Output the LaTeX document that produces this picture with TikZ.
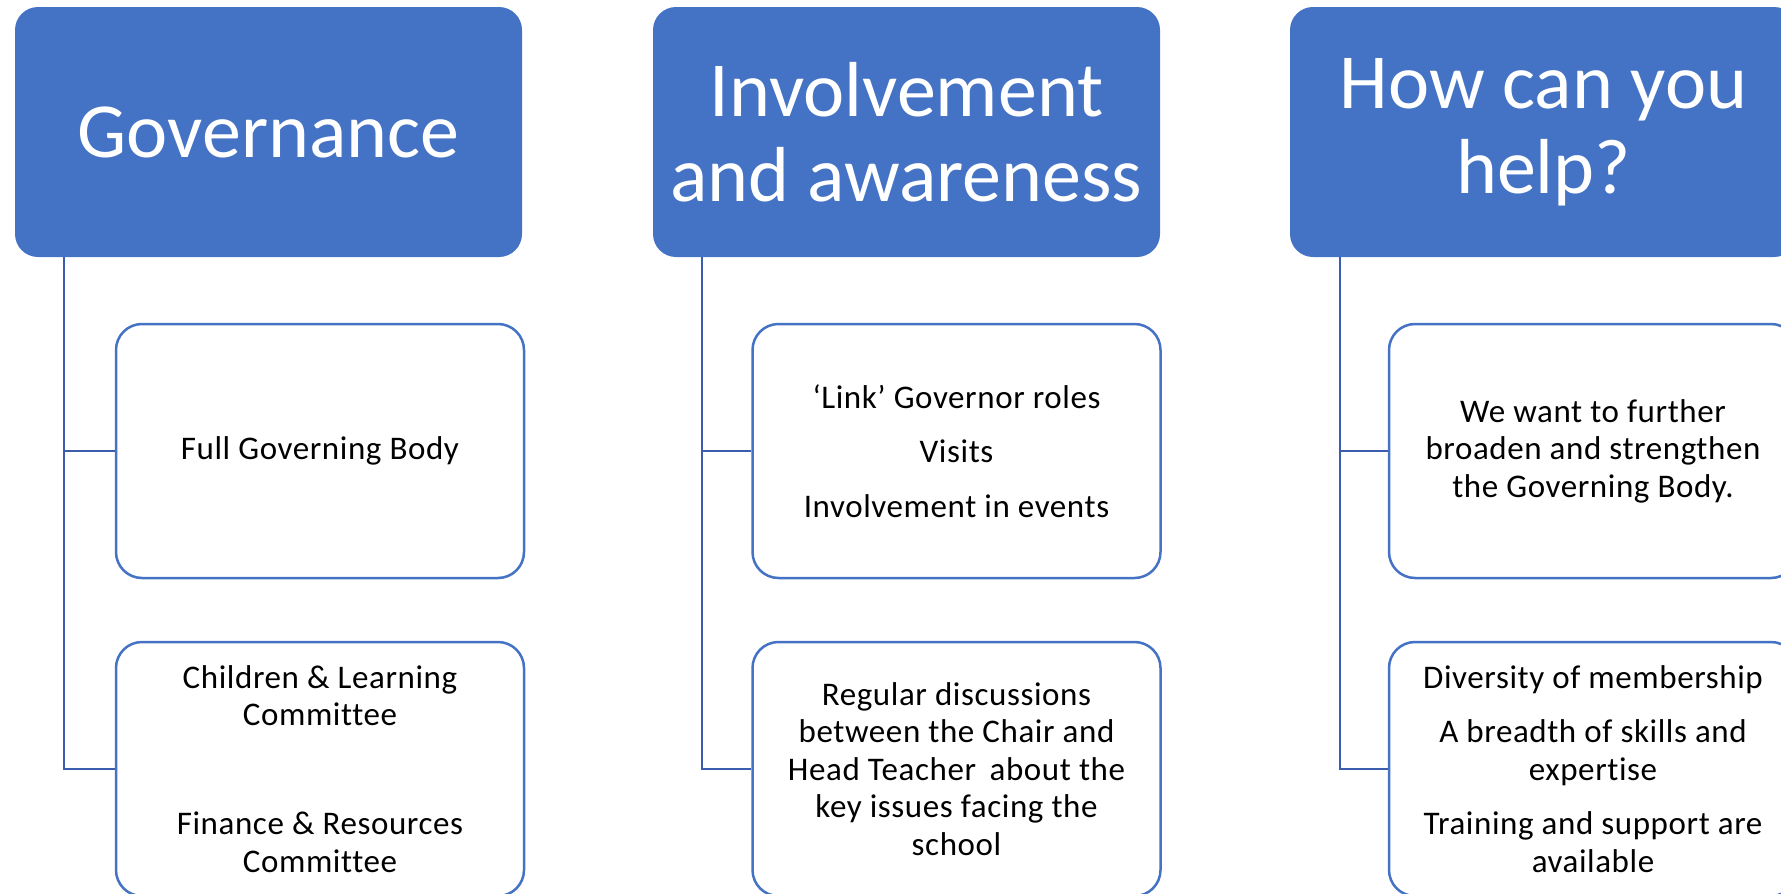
\documentclass[tikz,border=0pt]{standalone}
\usepackage{fontspec}
\setmainfont{Carlito}[Ligatures=NoCommon]
\newfontfamily\childfont{Carlito}[Ligatures=NoCommon, LetterSpace=1.8]
\definecolor{accent}{HTML}{4472C4}
\definecolor{linkc}{HTML}{3A5DAE}
\begin{document}
\begin{tikzpicture}[x=1pt,y=-1pt,
  header/.style={fill=accent, draw=none, rounded corners=23pt, minimum width=507pt, minimum height=250pt, inner sep=0pt, align=center, text=white, font=\fontsize{78}{85}\selectfont},
  childbox/.style={draw=accent, fill=white, line width=2.5pt, rounded corners=26pt, minimum width=408pt, minimum height=254pt, inner sep=0pt, align=center, text=black, font=\childfont\fontsize{33}{37.5}\selectfont},
  link/.style={draw=linkc, line width=2.5pt}
]
\useasboundingbox (0,0) rectangle (1781,894);
% column 1
\node[header] (h1) at (268.5,132) {Governance};
\node[childbox] (c11) at (320,451) {Full Governing Body};
\node[childbox] (c12) at (320,769) {Children \& Learning\\Committee\\[17pt]\strut\\[17pt]Finance \& Resources\\Committee};
\coordinate (t1) at (64,257);
% column 2
\node[header] (h2) at (906.5,132) {Involvement\\and awareness};
\node[childbox] (c21) at (956.5,451) {‘Link’ Governor roles\\[17pt]Visits\\[17pt]Involvement in events};
\node[childbox] (c22) at (956.5,769) {Regular discussions\\between the Chair and\\Head Teacher\, about the\\key issues facing the\\school};
\coordinate (t2) at (702,257);
% column 3
\node[header] (h3) at (1543.5,132) {How can you\\help?};
\node[childbox] (c31) at (1593,451) {We want to further\\broaden and strengthen\\the Governing Body.};
\node[childbox] (c32) at (1593,769) {Diversity of membership\\[17pt]A breadth of skills and\\expertise\\[17pt]Training and support are\\available};
\coordinate (t3) at (1340,257);
% connectors
\foreach \t/\a/\b in {t1/c11/c12, t2/c21/c22, t3/c31/c32}{
  \draw[link] (\t) |- (\b.west);
  \draw[link] (\t |- \a.west) -- (\a.west);
}
\end{tikzpicture}
\end{document}
